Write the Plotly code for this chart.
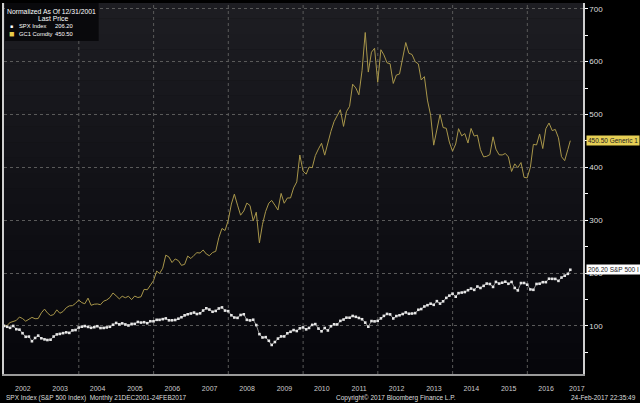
import pandas as pd
import plotly.graph_objects as go

# Serie mensual normalizada a 100 al 31/12/2001
fechas = list(pd.date_range("2001-12-31", periods=182, freq="ME")) + [pd.Timestamp("2017-02-24")]

spx = [100.0,
       98.4, 96.4, 99.9, 93.8, 92.9, 86.2, 79.4, 79.8, 71.0, 77.2, 81.6, 76.6,
       74.5, 73.3, 73.9, 79.9, 83.9, 84.9, 86.3, 87.8, 86.8, 91.5, 92.2, 96.9,
       98.5, 99.7, 98.1, 96.4, 97.6, 99.4, 96.0, 96.2, 97.1, 98.4, 102.2, 105.6,
       102.9, 104.8, 102.8, 100.8, 103.8, 103.8, 107.5, 106.3, 107.0, 105.1, 108.8, 108.7,
       111.5, 111.5, 112.8, 114.2, 110.6, 110.6, 111.2, 113.6, 116.4, 120.0, 122.0, 123.5,
       125.3, 122.5, 123.8, 129.1, 133.3, 130.9, 126.8, 128.4, 133.0, 135.0, 129.0, 127.9,
       120.1, 115.9, 115.2, 120.7, 122.0, 111.5, 110.4, 111.7, 101.6, 84.4, 78.1, 78.7,
       71.9, 64.0, 69.5, 76.0, 80.1, 80.1, 86.0, 88.9, 92.1, 90.3, 95.4, 97.1,
       93.5, 96.2, 101.9, 103.4, 94.9, 89.8, 96.0, 91.4, 99.4, 103.1, 102.8, 109.5,
       112.0, 115.6, 115.5, 118.8, 117.2, 115.0, 112.6, 106.2, 98.5, 109.2, 108.6, 109.5,
       114.3, 119.0, 122.7, 121.8, 114.1, 118.6, 120.1, 122.5, 125.5, 123.0, 123.4, 124.2,
       130.5, 131.9, 136.7, 139.2, 142.0, 139.9, 146.8, 142.2, 146.5, 153.0, 157.3, 161.0,
       155.3, 162.0, 163.1, 164.1, 167.5, 170.7, 168.2, 174.5, 171.8, 175.8, 180.1, 179.3,
       173.8, 183.3, 180.1, 181.7, 183.6, 179.7, 183.2, 171.8, 167.2, 181.1, 181.2, 178.0,
       169.0, 168.3, 179.4, 179.9, 182.7, 182.8, 189.3, 189.1, 188.9, 185.2, 191.5, 195.0,
       198.5, 206.2]

oro = [100.0,
       101.0, 106.4, 108.2, 110.3, 116.8, 113.9, 108.9, 111.8, 116.1, 113.6, 113.9, 124.7,
       131.8, 124.7, 119.6, 121.4, 130.4, 123.9, 127.2, 134.3, 137.9, 138.3, 142.6, 149.0,
       144.0, 141.9, 152.6, 139.0, 141.1, 141.5, 140.1, 146.9, 149.0, 153.7, 162.3, 156.9,
       151.2, 156.2, 153.3, 156.2, 149.7, 156.5, 153.7, 155.1, 169.1, 168.4, 177.3, 185.6,
       203.8, 199.2, 209.2, 233.9, 230.3, 219.9, 226.7, 223.5, 214.6, 216.4, 232.1, 227.5,
       233.6, 238.6, 237.9, 243.6, 236.1, 232.8, 238.9, 241.1, 266.9, 284.4, 280.5, 299.5,
       330.6, 349.3, 328.5, 309.5, 317.4, 332.4, 327.8, 298.8, 315.2, 257.2, 292.3, 316.7,
       332.4, 337.4, 328.5, 319.2, 350.7, 332.1, 342.1, 342.1, 361.1, 372.5, 423.4, 393.0,
       387.2, 400.5, 399.4, 422.3, 434.9, 445.6, 423.1, 446.7, 468.2, 486.8, 496.5, 509.0,
       477.5, 505.4, 515.5, 557.4, 550.2, 537.3, 583.2, 655.2, 580.3, 617.9, 625.4, 561.0,
       622.6, 612.9, 597.9, 596.1, 558.8, 574.6, 576.7, 606.1, 636.2, 615.8, 613.6, 600.0,
       595.7, 565.3, 571.7, 527.3, 498.6, 442.0, 470.0, 500.1, 475.4, 473.9, 447.8, 430.6,
       444.2, 473.2, 459.6, 463.9, 446.0, 473.6, 459.2, 461.0, 433.4, 419.8, 420.9, 424.1,
       457.8, 434.5, 423.8, 423.4, 426.3, 419.8, 392.2, 406.6, 399.4, 409.1, 381.1, 380.1,
       400.5, 443.5, 442.4, 463.2, 435.6, 473.2, 483.9, 469.6, 471.8, 456.0, 420.2, 412.7,
       433.8, 450.5]

anios_grilla = ["2004-01-01", "2006-01-01", "2008-01-01", "2010-01-01",
                "2012-01-01", "2014-01-01", "2016-01-01"]
ultimo_anio = "2017"

W, H = 640, 403
ML, MR, MT, MB = 2, 57, 3, 29
PW, PH = W - ML - MR, H - MT - MB


def px(x):
    return (x - ML) / PW


def py(y):
    return (H - MB - y) / PH


FUENTE = "Liberation Sans"
fig = go.Figure()

fig.add_trace(go.Scatter(
    x=fechas, y=oro, mode="lines",
    line=dict(color="#a8964a", width=1),
    name="GC1 Comdty", hoverinfo="x+y"
))
fig.add_trace(go.Scatter(
    x=fechas, y=spx, mode="lines+markers",
    line=dict(color="#8c8c8c", width=1),
    marker=dict(symbol="square", size=2.6, color="#e6e6e6"),
    name="SPX Index", hoverinfo="x+y"
))

# fondo degradado del área de trazado
shapes = []
n_bandas = 24
for i in range(n_bandas):
    t = i / (n_bandas - 1)
    c = int(29 - 23 * t)
    shapes.append(dict(
        type="rect", xref="paper", yref="paper",
        x0=0, x1=1, y0=1 - (i + 1) / n_bandas, y1=1 - i / n_bandas,
        fillcolor=f"rgb({c},{c},{c + 5})", line=dict(width=0), layer="below"
    ))
for a in anios_grilla:
    shapes.append(dict(
        type="line", xref="x", yref="paper", x0=a, x1=a, y0=0, y1=1,
        line=dict(color="#5a5a5a", width=1, dash="dot"), layer="below"
    ))
# caja de leyenda
shapes.append(dict(
    type="rect", xref="paper", yref="paper",
    x0=px(3), x1=px(97), y0=py(41), y1=py(3),
    fillcolor="#09090c", line=dict(width=0), layer="above"
))

anots = []
def texto(t, x, y, anchor="center", color="#ffffff", size=7, **kw):
    anots.append(dict(text=t, x=px(x), y=py(y), xref="paper", yref="paper",
                      xanchor=anchor, yanchor="middle", showarrow=False,
                      font=dict(family=FUENTE, size=size, color=color), **kw))

texto("Normalized As Of 12/31/2001", 50, 12, size=6.8)
texto("Last Price", 51, 19, size=6.8)
texto("■", 10, 26, color="#ffffff", size=5)
texto("SPX Index", 15, 26, anchor="left", size=5.8)
texto(f"{spx[-1]:.2f}", 73, 26, anchor="right", size=5.8)
texto("■", 10, 33.5, color="#e8cc4a", size=9)
texto("GC1 Comdty", 15, 33.5, anchor="left", size=5.8)
texto(f"{oro[-1]:.2f}", 73, 33.5, anchor="right", size=5.8)

# etiquetas del último valor
anots.append(dict(text=f"{oro[-1]:.2f} Generic 1", x=1, xref="paper", y=oro[-1], yref="y",
                  xanchor="left", yanchor="middle", showarrow=False, xshift=3,
                  bgcolor="#e6cf55", borderpad=1,
                  font=dict(family=FUENTE, size=6.5, color="#222222")))
anots.append(dict(text=f"{spx[-1]:.2f} S&P 500 I", x=1, xref="paper", y=spx[-1], yref="y",
                  xanchor="left", yanchor="middle", showarrow=False, xshift=3,
                  bgcolor="#ffffff", borderpad=1,
                  font=dict(family=FUENTE, size=6.5, color="#222222")))

# el último año queda fuera del rango como periodo completo
anots.append(dict(text=ultimo_anio, x=f"{ultimo_anio}-01-01", xref="x", y=py(388), yref="paper",
                  xanchor="left", yanchor="middle", showarrow=False, xshift=2,
                  font=dict(family=FUENTE, size=7, color="#cccccc")))

# pie de página
texto("SPX Index (S&P 500 Index)  Monthly 21DEC2001-24FEB2017", 2, 397.5, anchor="left", color="#dddddd", size=6.5)
texto("Copyright© 2017 Bloomberg Finance L.P.", 395, 397.5, color="#dddddd", size=6.5)
texto("24-Feb-2017 22:35:49", 638, 397.5, anchor="right", color="#dddddd", size=6.5)

fig.update_layout(
    width=W, height=H,
    margin=dict(l=ML, r=MR, t=MT, b=MB),
    paper_bgcolor="#000000",
    plot_bgcolor="#111115",
    showlegend=False,
    shapes=shapes,
    annotations=anots,
    xaxis=dict(
        range=["2001-12-31", "2017-06-28"],
        tick0="2002-01-01", dtick="M12", tickformat="%Y",
        ticklabelmode="period", ticks="", ticklabelstandoff=7,
        tickfont=dict(family=FUENTE, size=7, color="#cccccc"),
        showgrid=False, zeroline=False,
        showline=True, linecolor="#9a9a9a", linewidth=1.5,
        minor=dict(ticks="outside", ticklen=19, tickcolor="#777777", dtick="M12",
                   tick0="2002-01-01", showgrid=False),
    ),
    yaxis=dict(
        side="right", range=[9, 711], tick0=0, dtick=100,
        ticks="outside", ticklen=3, tickcolor="#ffffff",
        tickfont=dict(family=FUENTE, size=8, color="#dddddd"),
        showgrid=True, gridcolor="#5a5a5a", griddash="dot", gridwidth=1,
        zeroline=False, showline=True, linecolor="#cfcfcf", linewidth=1.5,
        mirror=True,
        minor=dict(ticks="outside", ticklen=3, tickcolor="#ffffff", dtick=50, showgrid=False),
    ),
)

fig.write_html("out.html", config={"displayModeBar": False},
               post_script="document.body.style.margin = '0';")
